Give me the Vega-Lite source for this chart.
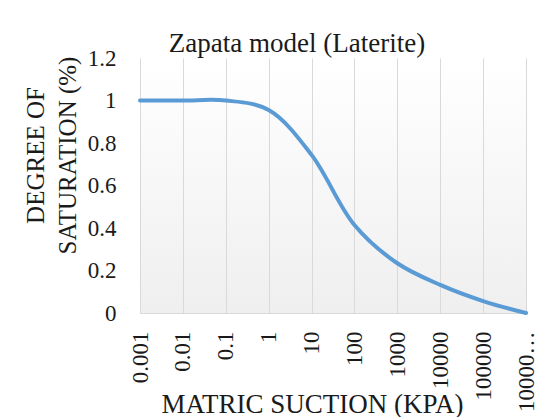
{
  "$schema": "https://vega.github.io/schema/vega-lite/v6.json",
  "autosize": "none",
  "width": 386,
  "height": 255,
  "padding": {"left": 140, "top": 58, "right": 27, "bottom": 104},
  "background": "#ffffff",
  "title": {
    "text": "Zapata model (Laterite)",
    "anchor": "middle",
    "frame": "group",
    "dx": -36,
    "offset": -32,
    "baseline": "alphabetic",
    "font": "Liberation Serif",
    "fontSize": 27,
    "fontWeight": "normal",
    "color": "#1a1a1a"
  },
  "config": {
    "view": {
      "stroke": null,
      "fill": {"gradient": "linear", "x1": 0, "y1": 0, "x2": 0, "y2": 1, "stops": [{"offset": 0, "color": "#ffffff"}, {"offset": 1, "color": "#efefef"}]}
    },
    "axis": {"labelFont": "Liberation Serif", "titleFont": "Liberation Serif", "labelColor": "#1a1a1a", "titleColor": "#1a1a1a", "titleFontWeight": "normal"}
  },
  "data": {
    "values": [
      {"suction": "0.001", "saturation": 1.0},
      {"suction": "0.01", "saturation": 1.0},
      {"suction": "0.1", "saturation": 1.0},
      {"suction": "1", "saturation": 0.955},
      {"suction": "10", "saturation": 0.744},
      {"suction": "100", "saturation": 0.414},
      {"suction": "1000", "saturation": 0.234},
      {"suction": "10000", "saturation": 0.132},
      {"suction": "100000", "saturation": 0.056},
      {"suction": "1000000", "saturation": 0.0}
    ]
  },
  "mark": {"type": "line", "color": "#5B9BD5", "strokeWidth": 4, "strokeCap": "round", "interpolate": "catmull-rom"},
  "encoding": {
    "x": {
      "field": "suction",
      "type": "ordinal",
      "sort": null,
      "scale": {"type": "point", "padding": 0},
      "axis": {
        "title": "MATRIC SUCTION (KPA)",
        "titleFontSize": 27,
        "titleX": 172,
        "titleY": 99,
        "titleAlign": "center",
        "titleBaseline": "alphabetic",
        "labelAngle": -90,
        "labelAlign": "right",
        "labelBaseline": "middle",
        "labelFontSize": 23,
        "labelPadding": 18,
        "labelExpr": "datum.label == '1000000' ? '10000…' : datum.label",
        "labelOverlap": false,
        "ticks": false,
        "grid": true,
        "gridColor": "#d9d9d9",
        "gridWidth": 1,
        "domainColor": "#d9d9d9",
        "domainWidth": 1
      }
    },
    "y": {
      "field": "saturation",
      "type": "quantitative",
      "scale": {"domain": [0, 1.2]},
      "axis": {
        "title": ["DEGREE OF", "SATURATION (%)"],
        "titleFontSize": 25,
        "titleAngle": -90,
        "titleX": -97,
        "titleY": 97,
        "titleAlign": "center",
        "titleBaseline": "alphabetic",
        "titleLineHeight": 32,
        "values": [0, 0.2, 0.4, 0.6, 0.8, 1, 1.2],
        "format": "~g",
        "labelFontSize": 23,
        "labelPadding": 24,
        "ticks": false,
        "domain": false,
        "grid": false
      }
    }
  }
}
